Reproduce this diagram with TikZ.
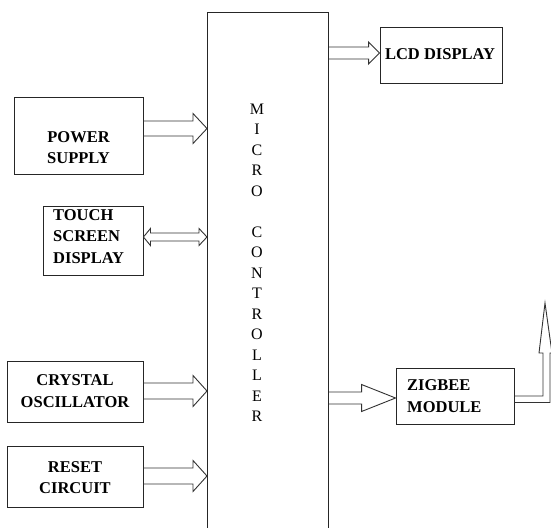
\documentclass[tikz,border=0pt]{standalone}
\usepackage{fontspec}
\setmainfont{Liberation Serif}
\usetikzlibrary{calc}

% hollow block arrow from the east side of one node to the west side of another
% #1 source node, #2 target node, #3 axis y, #4 shaft half width, #5 head half width, #6 head length
\newcommand\blockarrow[6]{%
  \draw[arw] let \p1=(#1.east), \p2=(#2.west) in
    (\x1,{-(#3-#4)*1pt}) -- ({\x2-#6*1pt},{-(#3-#4)*1pt}) -- ({\x2-#6*1pt},{-(#3-#5)*1pt})
    -- (\x2,{-#3*1pt}) -- ({\x2-#6*1pt},{-(#3+#5)*1pt}) -- ({\x2-#6*1pt},{-(#3+#4)*1pt})
    -- (\x1,{-(#3+#4)*1pt});}

\begin{document}
\begin{tikzpicture}[x=1pt,y=-1pt,
  box/.style={draw=black!85, line width=0.9pt, inner sep=0pt, rectangle},
  lbl/.style={font=\fontsize{16.5}{21.5}\selectfont\bfseries, inner sep=0pt, align=center},
  lbll/.style={lbl, align=left, anchor=west},
  arw/.style={draw=black!80, line width=0.9pt, line join=miter}]
\useasboundingbox (0,0) rectangle (551,527);
\fill[white] (0,0) rectangle (551,527);

% microcontroller (runs off the bottom edge)
\node[box, minimum width=121pt, minimum height=520pt, anchor=north west] (mc) at (207,12) {};
\node[inner sep=0pt, align=center, font=\fontsize{16}{20.5}\selectfont] (mctext) at (257,263)
  {M\\I\\C\\R\\O\\~\\C\\O\\N\\T\\R\\O\\L\\L\\E\\R};

% input blocks
\node[box, minimum width=129pt, minimum height=77pt] (ps) at (78.5,135.5) {};
\node[lbl] (pstext) at (78.5,147.5) {POWER\\SUPPLY};

\node[box, minimum width=100pt, minimum height=69pt] (ts) at (93,240.5) {};
\node[lbll] (tstext) at (53,236.5) {TOUCH\\SCREEN\\DISPLAY};

\node[box, minimum width=136pt, minimum height=61pt] (xo) at (75,391.5) {};
\node[lbl] (xotext) at (75,391) {CRYSTAL\\OSCILLATOR};

\node[box, minimum width=136pt, minimum height=61pt] (rc) at (75,476.5) {};
\node[lbl] (rctext) at (75,477.5) {RESET\\CIRCUIT};

% output blocks
\node[box, minimum width=122pt, minimum height=56pt] (lcd) at (441,55) {};
\node[lbl] (lcdtext) at (440,54) {LCD DISPLAY};

\node[box, minimum width=118pt, minimum height=56pt] (zb) at (455,396) {};
\node[lbll] (zbtext) at (407,396) {ZIGBEE\\MODULE};

% connectors into the controller
\blockarrow{ps}{mc}{128.5}{7.5}{15}{14}
\blockarrow{xo}{mc}{391}{8}{15.5}{14}
\blockarrow{rc}{mc}{476}{8}{15.5}{14}
\blockarrow{mc}{lcd}{53}{6}{11}{11}
\blockarrow{mc}{zb}{398}{6}{13.5}{34}

% bidirectional link to the touch screen
\draw[arw] let \p1=(ts.east), \p2=(mc.west) in
  (\x1,-237pt) -- ({\x1+7pt},-228.5pt) -- ({\x1+7pt},-233pt) -- ({\x2-8pt},-233pt)
  -- ({\x2-8pt},-228.5pt) -- (\x2,-237pt) -- ({\x2-8pt},-245.5pt) -- ({\x2-8pt},-241pt)
  -- ({\x1+7pt},-241pt) -- ({\x1+7pt},-245.5pt) -- cycle;

% antenna arrow leaving the ZigBee module
\coordinate (ant) at (545,303);
\draw[arw] let \p1=(zb.east), \p2=(ant) in
  (\x1,-396pt) -- ({\x2-2pt},-396pt) -- ({\x2-2pt},-353pt) -- ({\x2-6pt},-353pt)
  -- (\p2) -- ({\x2+7pt},-353pt) -- ({\x2+5pt},-353pt) -- ({\x2+5pt},-402.5pt)
  -- (\x1,-402.5pt);
\end{tikzpicture}
\end{document}
